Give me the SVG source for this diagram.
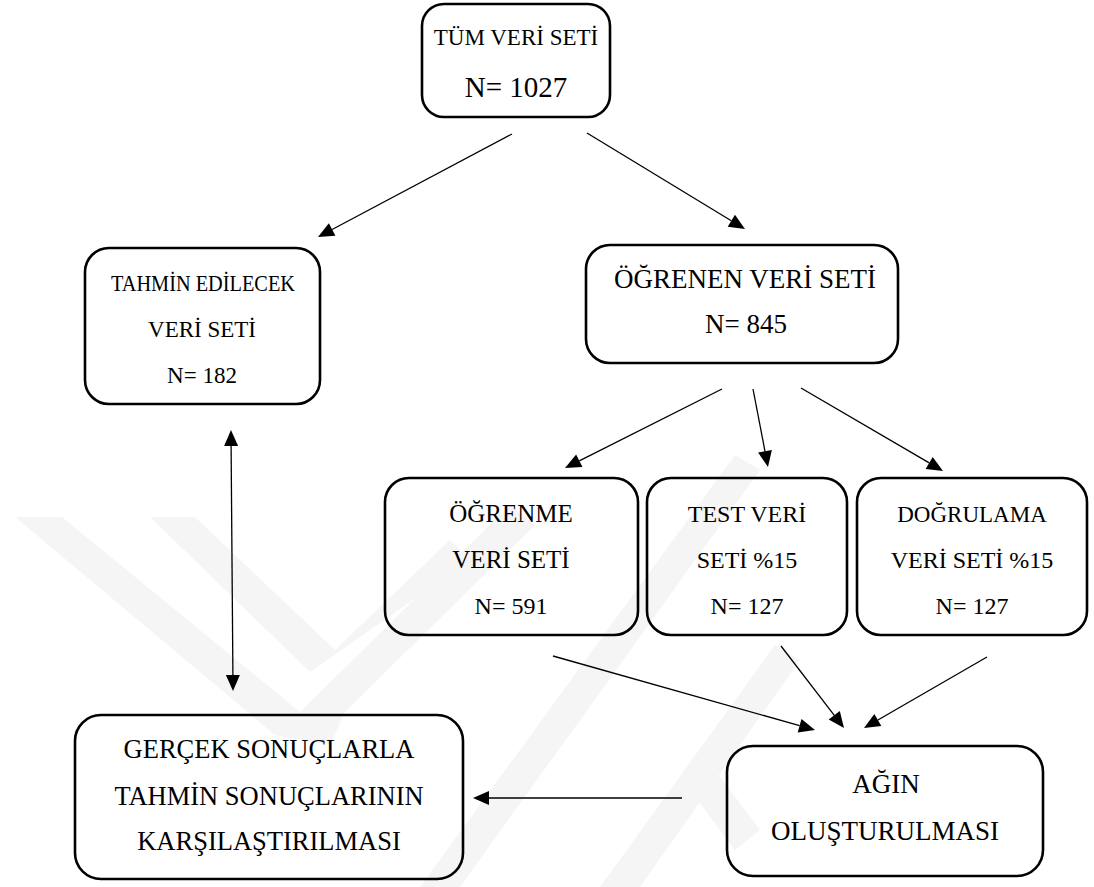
<svg xmlns="http://www.w3.org/2000/svg" width="1094" height="887" viewBox="0 0 1094 887">
<style>
.box{fill:none;stroke:#000;stroke-width:2.6}
.t{fill:#000;text-anchor:middle}
.c{stroke:#000;stroke-width:1.3;fill:none}
.h{fill:#000;stroke:none}
.wm{fill:#f5f5f5;stroke:none}
</style>
<rect width="1094" height="887" fill="#fff"/>
<g id="watermark">
<polygon class="wm" points="15,517 62,517 300,712 275,735"/>
<polygon class="wm" points="150,517 195,517 335,650 310,672"/>
<polygon class="wm" points="275,735 300,712 510,505 535,525 345,712 330,745"/>
<polygon class="wm" points="310,672 335,650 450,540 470,560"/>
<polygon class="wm" points="420,887 460,887 760,470 735,455"/>
<polygon class="wm" points="600,887 640,887 800,660 775,645"/>
<polygon class="wm" points="690,790 715,770 760,830 735,850"/>
</g>
<g id="connectors">
<line class="c" x1="512" y1="134" x2="332.1" y2="229.5"/>
<polygon class="h" points="318,237 328.85,223.32 335.41,235.68"/>
<line class="c" x1="587" y1="133" x2="731.3" y2="220.7"/>
<polygon class="h" points="745,229 727.70,226.67 734.96,214.71"/>
<line class="c" x1="722" y1="389" x2="579.3" y2="460.8"/>
<polygon class="h" points="565,468 576.14,454.56 582.44,467.06"/>
<line class="c" x1="753" y1="389" x2="765" y2="451.3"/>
<polygon class="h" points="768,467 758.11,452.61 771.85,449.97"/>
<line class="c" x1="801" y1="388" x2="929.2" y2="462.9"/>
<polygon class="h" points="943,471 925.66,468.97 932.72,456.89"/>
<line class="c" x1="231.1" y1="446" x2="232.9" y2="675"/>
<polygon class="h" points="231,430 224.12,446 238.12,446"/>
<polygon class="h" points="233,691 225.88,675 239.88,675"/>
<line class="c" x1="553" y1="656" x2="799.6" y2="725.6"/>
<polygon class="h" points="815,730 797.70,732.39 801.50,718.91"/>
<line class="c" x1="781" y1="646" x2="834.3" y2="715.3"/>
<polygon class="h" points="844,728 828.70,719.58 839.80,711.04"/>
<line class="c" x1="987" y1="657" x2="877.9" y2="720"/>
<polygon class="h" points="864,728 874.36,713.94 881.36,726.06"/>
<line class="c" x1="682" y1="798" x2="489" y2="798"/>
<polygon class="h" points="473,798 489,791 489,805"/>
</g>
<g id="n-tum">
<rect class="box" x="422" y="4" width="188" height="113" rx="22"/>
<text class="t" x="516" y="45" font-family="Liberation Serif" font-size="23">TÜM VERİ SETİ</text>
<text class="t" x="516" y="97" font-family="Liberation Serif" font-size="29">N= 1027</text>
</g>
<g id="n-tahmin">
<rect class="box" x="85" y="248" width="235" height="156" rx="24"/>
<text class="t" x="203" y="291" font-family="Liberation Serif" font-size="22.5" textLength="184" lengthAdjust="spacingAndGlyphs">TAHMİN EDİLECEK</text>
<text class="t" x="202" y="337" font-family="Liberation Serif" font-size="23">VERİ SETİ</text>
<text class="t" x="202" y="383" font-family="Liberation Serif" font-size="23">N= 182</text>
</g>
<g id="n-ogrenen">
<rect class="box" x="586" y="245" width="312" height="118" rx="24"/>
<text class="t" x="745" y="288" font-family="Liberation Serif" font-size="27">ÖĞRENEN VERİ SETİ</text>
<text class="t" x="746" y="333" font-family="Liberation Serif" font-size="27">N= 845</text>
</g>
<g id="n-ogrenme">
<rect class="box" x="385" y="478" width="253" height="157" rx="24"/>
<text class="t" x="511" y="522" font-family="Liberation Serif" font-size="25">ÖĞRENME</text>
<text class="t" x="511" y="568" font-family="Liberation Serif" font-size="25">VERİ SETİ</text>
<text class="t" x="511" y="614" font-family="Liberation Serif" font-size="24">N= 591</text>
</g>
<g id="n-test">
<rect class="box" x="647" y="478" width="200" height="157" rx="24"/>
<text class="t" x="747" y="522" font-family="Liberation Serif" font-size="24">TEST VERİ</text>
<text class="t" x="747" y="568" font-family="Liberation Serif" font-size="24">SETİ %15</text>
<text class="t" x="747" y="614" font-family="Liberation Serif" font-size="24">N= 127</text>
</g>
<g id="n-dogrulama">
<rect class="box" x="857" y="478" width="230" height="157" rx="24"/>
<text class="t" x="972" y="522" font-family="Liberation Serif" font-size="23">DOĞRULAMA</text>
<text class="t" x="972" y="568" font-family="Liberation Serif" font-size="24">VERİ SETİ %15</text>
<text class="t" x="972" y="614" font-family="Liberation Serif" font-size="24">N= 127</text>
</g>
<g id="n-gercek">
<rect class="box" x="75" y="715" width="388" height="164" rx="26"/>
<text class="t" x="269" y="758" font-family="Liberation Serif" font-size="26.5">GERÇEK SONUÇLARLA</text>
<text class="t" x="269" y="805" font-family="Liberation Serif" font-size="26.5">TAHMİN SONUÇLARININ</text>
<text class="t" x="269" y="850" font-family="Liberation Serif" font-size="26.5">KARŞILAŞTIRILMASI</text>
</g>
<g id="n-agin">
<rect class="box" x="727" y="746" width="316" height="130" rx="26"/>
<text class="t" x="886" y="793" font-family="Liberation Serif" font-size="27">AĞIN</text>
<text class="t" x="885" y="840" font-family="Liberation Serif" font-size="27">OLUŞTURULMASI</text>
</g>
</svg>
